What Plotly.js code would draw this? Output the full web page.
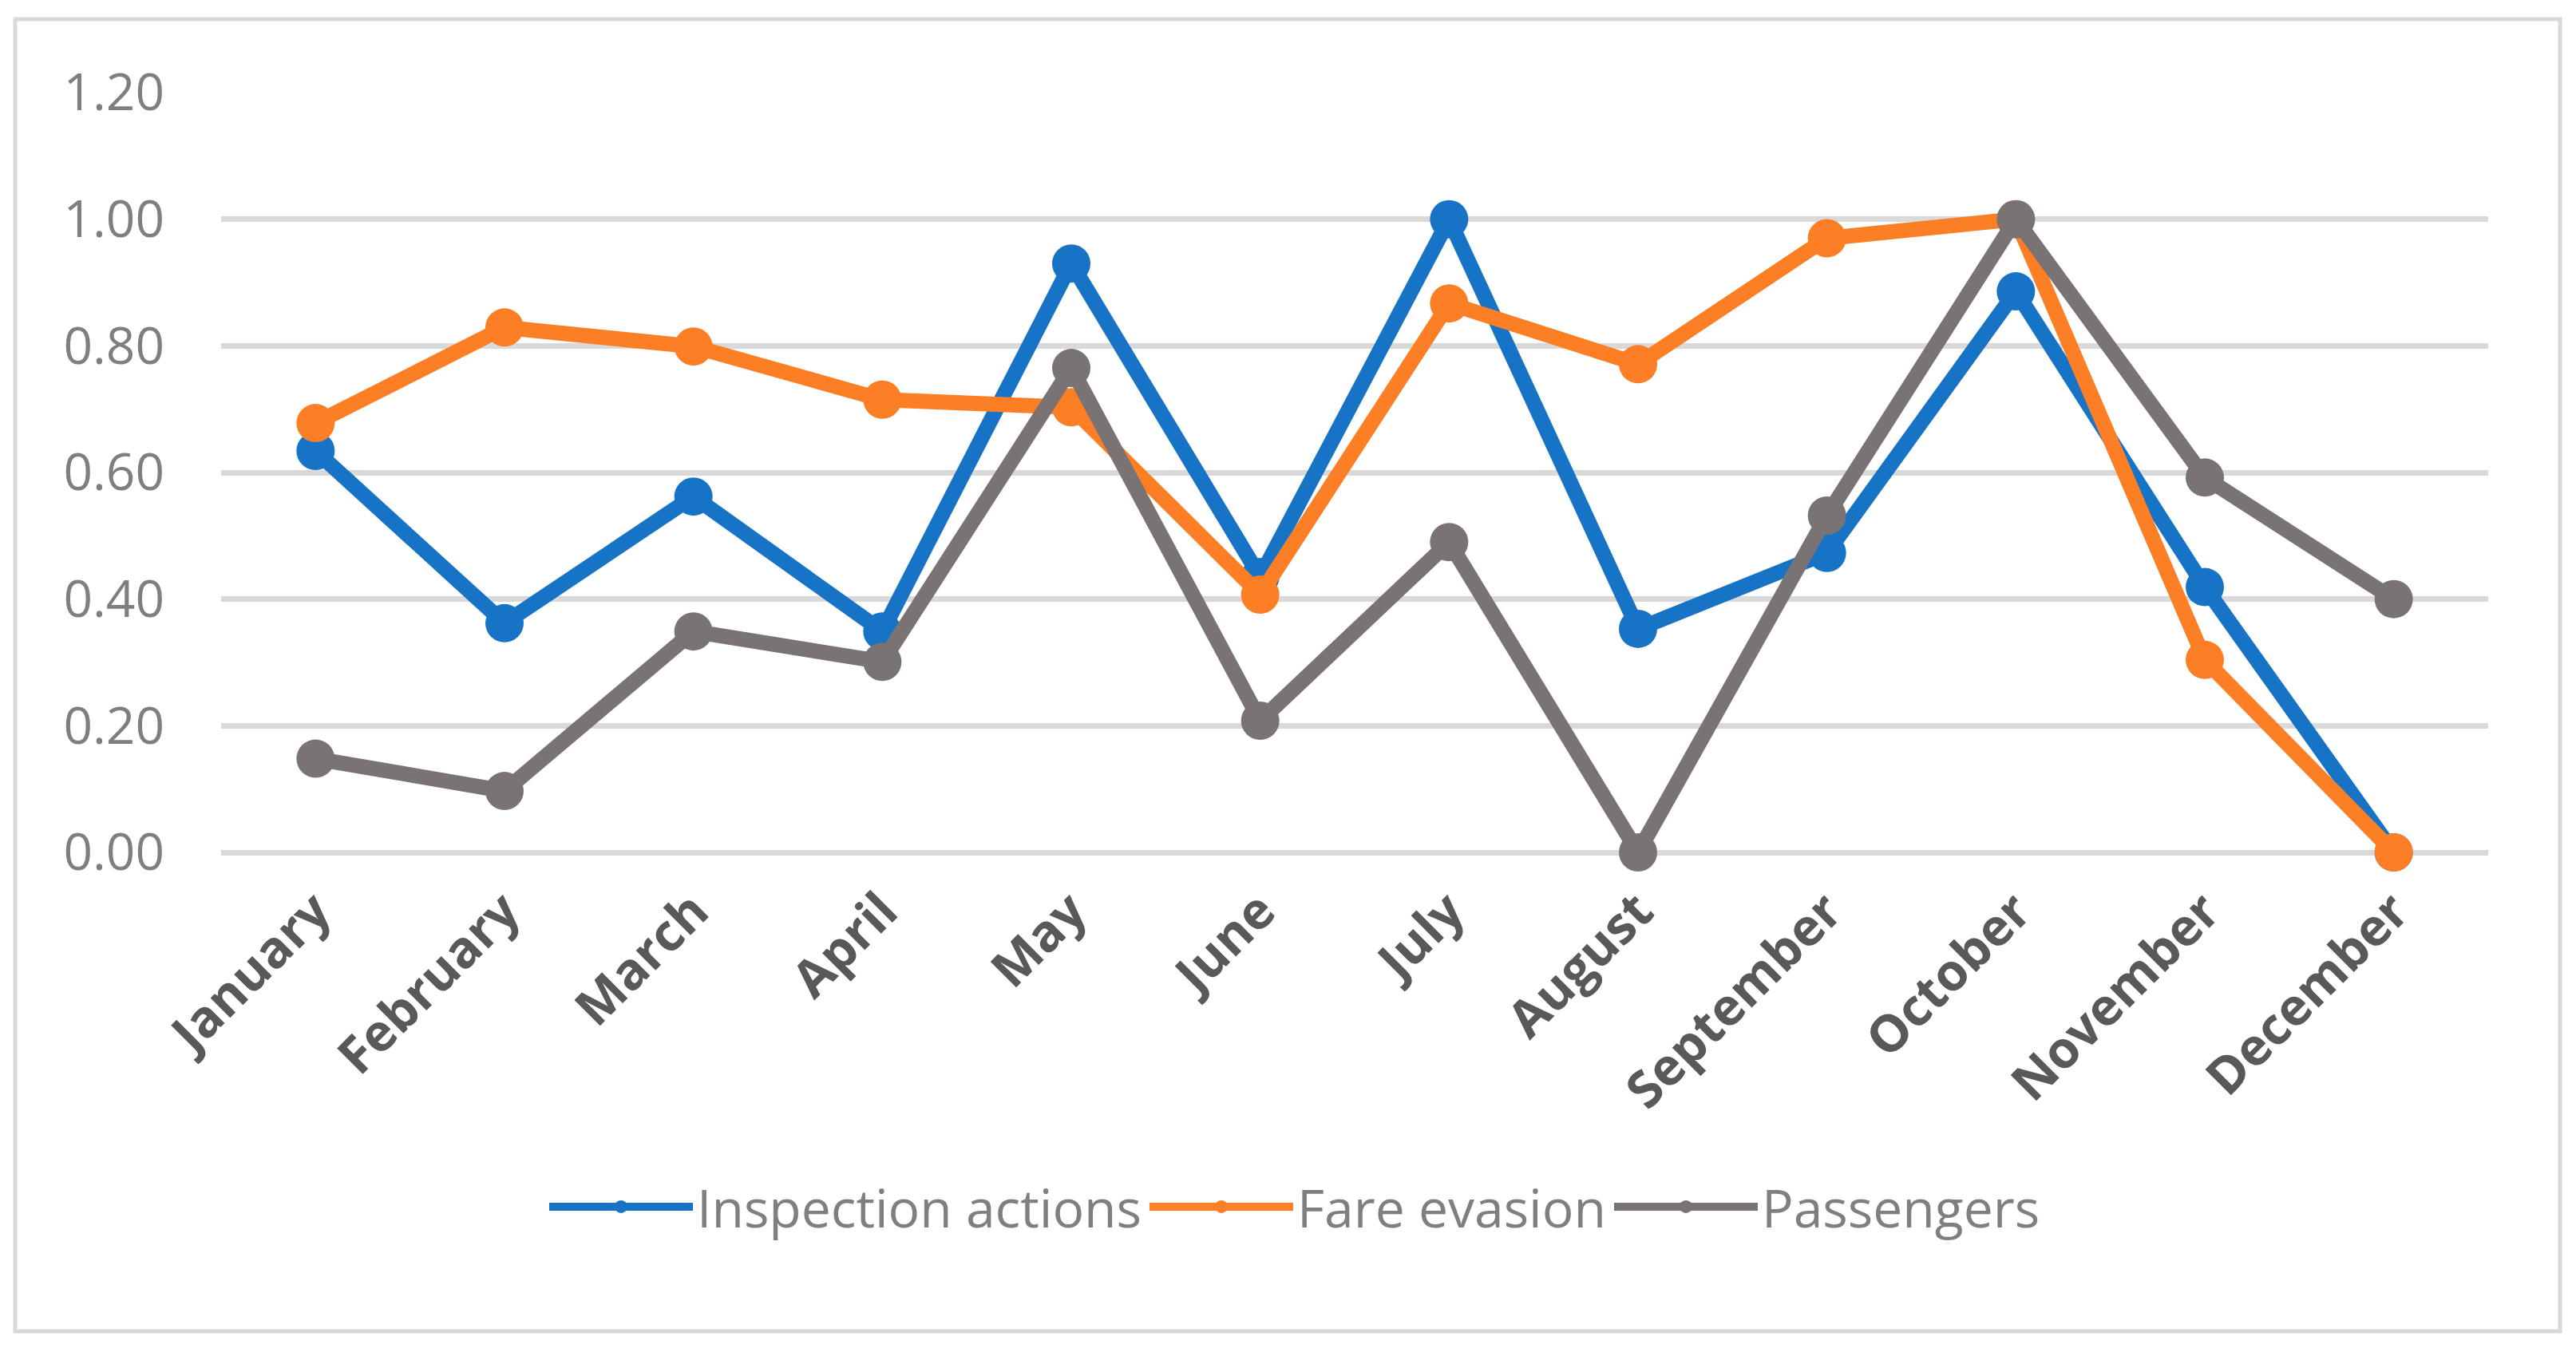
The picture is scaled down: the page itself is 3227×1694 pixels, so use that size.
<!DOCTYPE html>
<html>
<head>
<meta charset="utf-8">
<script src="https://cdn.plot.ly/plotly-3.0.1.min.js"></script>
<style>html,body{margin:0;padding:0;background:#fff;}#chart{width:3227px;height:1694px;}</style>
</head>
<body>
<div id="chart"></div>
<script>
const months = ["January","February","March","April","May","June","July","August","September","October","November","December"];
const inspectionActions = [0.634, 0.362, 0.562, 0.349, 0.930, 0.435, 1.000, 0.353, 0.473, 0.886, 0.419, 0.000];
const fareEvasion       = [0.678, 0.829, 0.799, 0.715, 0.703, 0.407, 0.867, 0.771, 0.970, 1.000, 0.304, 0.000];
const passengers        = [0.148, 0.097, 0.349, 0.301, 0.765, 0.208, 0.490, 0.000, 0.532, 1.000, 0.592, 0.400];
const seriesNames = ["Inspection actions", "Fare evasion", "Passengers"];
const seriesColors = ["#1773c6", "#fd7f25", "#797473"];
const yTicks = [0, 0.2, 0.4, 0.6, 0.8, 1.0, 1.2];

const allSeries = [inspectionActions, fareEvasion, passengers];
const traces = allSeries.map((vals, i) => ({
  type: "scatter",
  mode: "lines+markers",
  name: seriesNames[i],
  x: months,
  y: vals,
  line: {color: seriesColors[i], width: 19},
  marker: {color: seriesColors[i], size: 48, symbol: "circle"},
  cliponaxis: false
}));

const L = 277, R = 3117, T = 116, B = 1068, W = 3227, H = 1694;
const pw = R - L, ph = B - T;
const px = v => (v - L) / pw;
const py = v => (B - v) / ph;

const layout = {
  width: W, height: H,
  margin: {l: L, r: W - R, t: T, b: H - B, pad: 0},
  paper_bgcolor: "#ffffff",
  plot_bgcolor: "#ffffff",
  font: {family: "Open Sans, sans-serif", color: "#7f7f7f", size: 64},
  showlegend: true,
  legend: {
    orientation: "h",
    x: px(1622), xanchor: "center",
    y: py(1512), yanchor: "middle",
    font: {family: "Open Sans, sans-serif", size: 66, color: "#7f7f7f"},
    itemwidth: 180,
    tracegroupgap: 0,
    bgcolor: "rgba(0,0,0,0)"
  },
  xaxis: {
    type: "category",
    range: [-0.5, 11.5],
    tickangle: -45,
    tickfont: {family: "Open Sans, sans-serif", size: 64, color: "#595959", weight: 700},
    showgrid: false,
    zeroline: false,
    showline: false,
    ticks: "",
    ticklabelstandoff: 22,
    fixedrange: true
  },
  yaxis: {
    range: [0, 1.2],
    tickvals: yTicks,
    tickformat: ".2f",
    tickfont: {family: "Open Sans, sans-serif", size: 64, color: "#7f7f7f"},
    showgrid: true,
    gridcolor: "#d9d9d9",
    gridwidth: 7,
    zeroline: true,
    zerolinecolor: "#d9d9d9",
    zerolinewidth: 7,
    showline: false,
    ticks: "",
    ticklabelstandoff: 70,
    fixedrange: true
  },
  shapes: [{
    type: "rect", xref: "paper", yref: "paper",
    x0: px(19), x1: px(3207), y0: py(1668), y1: py(24),
    line: {color: "#d9d9d9", width: 5},
    fillcolor: "rgba(0,0,0,0)",
    layer: "below"
  }]
};

Plotly.newPlot("chart", traces, layout, {displayModeBar: false, staticPlot: true});
</script>
</body>
</html>
